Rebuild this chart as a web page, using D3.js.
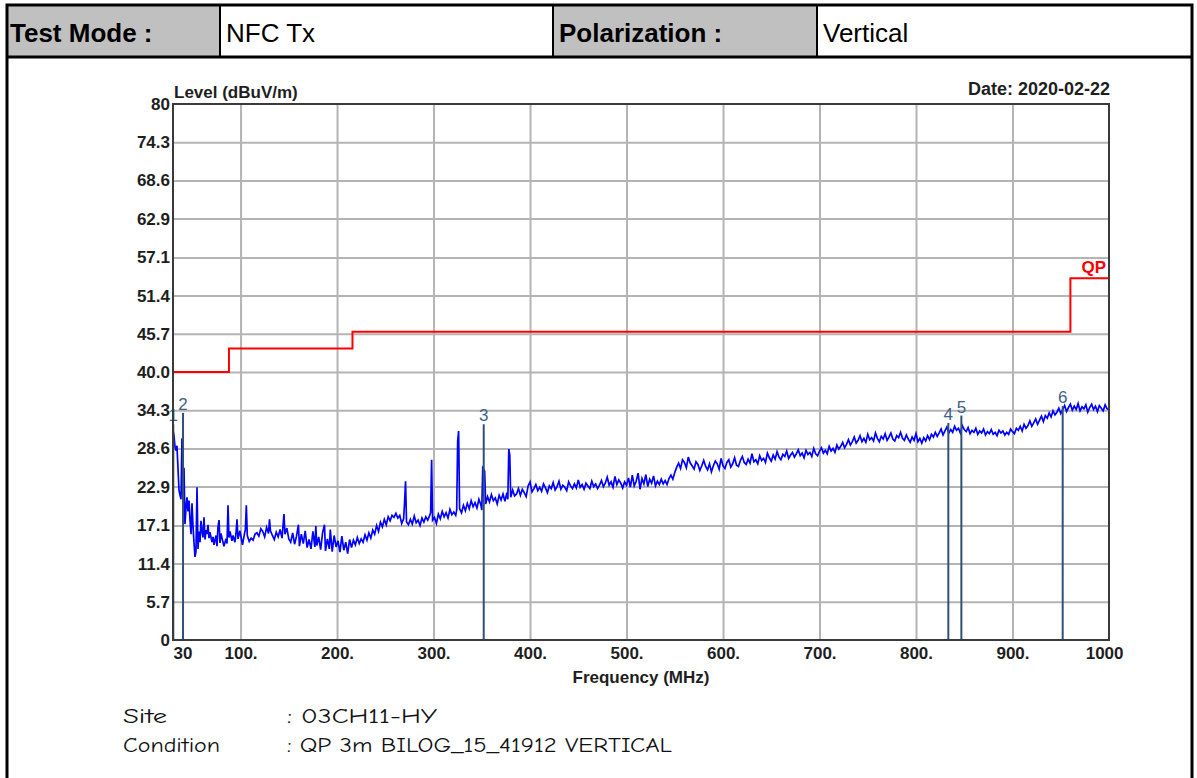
<!DOCTYPE html>
<html><head><meta charset="utf-8">
<script src="https://cdn.jsdelivr.net/npm/d3@7"></script>
<style>
html,body{margin:0;padding:0;background:#fff;}
svg{display:block;}
</style></head>
<body>
<svg id="c" width="1197" height="778"></svg>
<script>
// ---------- data ----------
const headerLabels = ["Test Mode :", "Polarization :"];
const headerValues = ["NFC Tx", "Vertical"];

const yTickValues = [0, 5.7, 11.4, 17.1, 22.9, 28.6, 34.3, 40.0, 45.7, 51.4, 57.1, 62.9, 68.6, 74.3, 80];
const yTickLabels = ["0", "5.7", "11.4", "17.1", "22.9", "28.6", "34.3", "40.0", "45.7", "51.4", "57.1", "62.9", "68.6", "74.3", "80"];
const xTickValues = [30, 100, 200, 300, 400, 500, 600, 700, 800, 900, 1000];
const xTickLabels = ["30", "100.", "200.", "300.", "400.", "500.", "600.", "700.", "800.", "900.", "1000"];

// QP limit (step after)
const limitFreq  = [30, 88, 216, 960, 1000];
const limitLevel = [40, 43.5, 46, 54, 54];

// markers
const markerNums  = ["1", "2", "3", "4", "5", "6"];
const markerFreq  = [30.3, 40.4, 352.0, 833.5, 847.0, 952.0];
const markerLevel = [32.2, 33.9, 32.2, 32.4, 33.5, 34.9];

// measured trace [MHz, dBuV/m]
const traceLow = [
[30.0,31.3],[31.0,30.5],[32.1,28.8],[33.1,28.3],[34.1,29.0],[35.2,25.5],[36.2,22.4],[37.3,21.6],[38.3,21.0],[39.3,30.1],
[40.4,20.5],[41.4,25.7],[42.4,17.3],[43.5,19.8],[44.5,21.3],[45.5,19.2],[46.6,20.8],[47.6,18.0],[48.7,15.8],[49.7,20.4],
[50.7,17.0],[51.8,14.5],[52.8,12.4],[53.8,13.2],[54.9,22.8],[55.9,13.6],[56.9,16.2],[58.0,14.6],[59.0,17.8],[60.0,16.3],
[61.1,15.3],[62.1,18.3],[63.2,15.0],[64.2,16.4],[65.2,15.8],[66.3,17.2],[67.3,15.2],[68.3,16.1],[70.4,14.6],[71.5,15.4],
[72.5,14.2],[74.6,15.6],[75.6,14.0],[76.6,16.8],[77.7,17.9],[78.7,14.5],[79.7,15.9],[80.8,15.2],[82.8,14.0],[84.9,15.1],
[86.0,14.4],[87.0,20.1],[88.0,15.3],[89.1,16.2],[91.1,14.8],[92.2,15.6],[94.2,14.6],[95.3,15.9],[96.3,18.0],[97.4,15.1],
[99.4,16.3]
];
const traceMid = [
[101,15.0],[102,14.2],[104,15.8],[105,16.5],[106,20.1],[107,15.6],[109,14.7],[111,15.2],[113,14.9],[115,15.8],
[117,16.0],[119,15.5],[121,16.6],[123,16.2],[125,15.4],[127,16.8],[129,15.9],[130,18.0],[131,16.3],[133,15.6],
[135,15.0],[137,16.1],[139,15.4],[141,16.5],[143,15.2],[145,18.8],[146,15.8],[148,16.7],[150,15.1],[152,14.6],
[154,16.0],[156,14.3],[158,15.5],[160,17.2],[161,14.0],[163,15.8],[165,14.4],[167,16.3],[169,13.8],[171,15.0],
[173,13.6],[175,16.2],[177,13.9],[178,17.0],[179,14.1],[181,15.4],[183,13.5],[185,16.0],[187,17.2],[188,13.3],
[190,15.1],[192,13.6],[193,16.5],[195,13.2],[197,15.6],[199,13.9],[201,14.8],[203,13.1],[205,15.5],[207,13.4],
[209,14.6],[211,12.9],[213,15.0],[215,13.8],[217,14.9],[219,14.2],[221,15.3],[223,14.4],[225,15.1],[227,14.6],
[229,15.7],[231,14.9],[233,16.0],[235,15.2],[237,16.4],[239,15.8],[241,17.1],[243,16.2],[245,17.6],[247,16.9],
[249,18.0],[251,17.2],[253,18.4],[255,17.8],[257,18.6],[259,18.3],[261,18.9],[263,18.2],[265,18.6],[267,17.4],
[269,18.1],[270,20.6],[271,23.7],[272,17.6],[274,17.2],[276,18.0],[278,17.3],[280,18.5],[282,17.5],[284,17.9],
[286,17.1],[288,18.2],[290,17.6],[292,18.4],[294,17.9],[296,18.6],[297,19.0],[298,26.9],[299,17.9],[301,18.3],
[303,17.4],[305,18.8],[307,18.1],[309,19.2],[311,18.4],[313,19.0],[315,18.2],[317,19.5],[319,18.7],[321,19.1],
[323,18.6],[324,19.4],[325,29.7],[326,31.2],[327,19.6],[329,19.0],[331,20.1],[333,19.3],[335,20.4],[337,19.6],
[339,20.8],[341,19.9],[343,20.5],[345,19.7],[347,21.0],[349,20.2],[350,19.4],[351,25.7],[352,25.5],[353,25.2],
[354,20.3],[356,21.4],[358,20.6],[360,21.7],[362,20.8],[364,21.2],[366,20.3],[368,21.6],[370,20.9],[372,21.8],
[374,20.7],[376,22.0],[377,21.0],[378,28.5],[379,27.6],[380,21.3],[382,22.4],[384,21.5],[386,21.8],[388,22.6],
[390,21.6],[392,22.5],[394,22.0],[396,21.4],[398,23.0],[400,23.6],[402,22.1],[404,22.6],[406,23.2],[408,22.3],
[410,22.8],[412,22.2],[414,23.3],[416,22.7],[418,22.0],[420,23.0],[422,22.6],[424,23.5],[426,22.4],[428,22.9],
[430,23.7],[432,22.5],[434,23.1],[436,22.8],[438,22.3],[440,23.6],[442,23.0],[444,22.6],[446,23.3],[448,22.7],
[450,23.9],[452,22.8],[454,23.2],[456,22.5],[458,23.4],[460,23.0],[462,22.6],[464,23.7],[466,22.9],[468,23.3],
[470,22.6],[472,23.1],[474,23.8],[476,22.9],[478,23.4],[480,24.3],[482,23.1],[484,23.6],[486,22.8],[488,24.4],
[490,23.2],[492,23.9],[494,23.4],[496,22.7],[498,23.6],[500,23.1],[502,24.2],[504,22.8],[506,24.6],[508,23.0],
[510,23.7],[512,24.9],[514,22.5],[516,24.1],[518,23.3],[520,24.7],[522,22.9],[524,24.0],[526,23.4],[528,24.5],
[530,23.0],[532,23.7],[534,23.2],[536,24.0],[538,23.3],[540,23.8],[542,23.2],[544,24.1],[546,24.6],[548,24.0]
];
const traceHigh = [
[550,25.0],[552,25.8],[554,26.4],[556,25.6],[558,26.9],[560,26.5],[562,25.7],[564,27.3],[566,26.4],[568,26.0],
[570,25.5],[572,26.6],[574,26.2],[576,25.3],[578,26.0],[580,26.8],[582,25.9],[584,25.4],[586,26.3],[588,25.1],
[590,26.0],[592,26.7],[594,26.3],[596,25.5],[598,27.1],[600,26.0],[602,25.6],[604,26.5],[606,26.9],[608,25.8],
[610,26.3],[612,27.2],[614,26.1],[616,25.9],[618,26.8],[620,27.4],[622,26.5],[624,26.2],[626,27.0],[628,26.4],
[630,27.8],[632,26.6],[634,26.9],[636,26.3],[638,27.5],[640,26.8],[642,27.1],[644,26.5],[646,27.9],[648,27.2],
[650,26.7],[652,27.6],[654,27.0],[656,28.1],[658,27.3],[660,26.9],[662,27.7],[664,27.4],[666,28.2],[668,27.1],
[670,27.6],[672,28.0],[674,27.3],[676,27.8],[678,28.4],[680,27.5],[682,27.9],[684,27.2],[686,28.3],[688,27.7],
[690,28.0],[692,27.4],[694,28.6],[696,27.8],[698,27.5],[700,28.2],[702,28.7],[704,27.9],[706,28.3],[708,27.8],
[710,28.9],[712,28.2],[714,28.6],[716,28.0],[718,29.1],[720,28.5],[722,28.9],[724,29.5],[726,28.7],[728,29.2],
[730,29.9],[732,29.1],[734,29.6],[736,30.3],[738,29.4],[740,29.8],[742,30.5],[744,29.6],[746,30.1],[748,29.5],
[750,30.7],[752,29.9],[754,30.2],[756,29.7],[758,30.9],[760,30.1],[762,29.6],[764,30.4],[766,30.0],[768,30.8],
[770,29.8],[772,30.3],[774,30.9],[776,30.0],[778,29.7],[780,30.5],[782,30.2],[784,31.0],[786,30.1],[788,29.8],
[790,30.6],[792,30.0],[794,29.5],[796,30.3],[798,29.8],[800,30.8],[802,29.6],[804,30.1],[806,29.4],[808,30.2],
[810,29.7],[812,30.5],[814,29.9],[816,30.7],[818,30.3],[820,31.0],[822,30.4],[824,30.9],[826,31.5],[828,30.6],
[830,31.2],[832,31.8],[834,30.9],[836,31.4],[838,31.0],[840,31.9],[842,31.3],[844,31.6],[846,30.9],[848,32.0],
[850,31.4],[852,31.1],[854,31.7],[856,30.8],[858,31.3],[860,31.0],[862,31.6],[864,30.7],[866,31.2],[868,30.9],
[870,31.5],[872,30.6],[874,31.1],[876,30.8],[878,31.4],[880,30.7],[882,31.0],[884,30.5],[886,31.3],[888,30.9],
[890,31.2],[892,30.6],[894,31.0],[896,30.7],[898,31.5],[900,31.1],[902,30.8],[904,31.6],[906,31.3],[908,31.9],
[910,31.2],[912,32.2],[914,31.6],[916,32.0],[918,32.7],[920,31.9],[922,32.4],[924,33.0],[926,32.2],[928,32.8],
[930,33.4],[932,32.6],[934,33.5],[936,33.1],[938,33.9],[940,33.3],[942,34.2],[944,33.6],[946,34.0],[948,34.6],
[950,33.8],[952,34.4],[954,35.0],[956,34.1],[958,34.7],[960,35.2],[962,34.3],[964,34.9],[966,34.4],[968,35.3],
[970,34.2],[972,34.8],[974,34.5],[976,35.1],[978,34.0],[980,34.7],[982,35.2],[984,34.4],[986,34.9],[988,34.1],
[990,35.0],[992,34.6],[994,34.2],[996,35.1],[998,34.5],[1000,34.4]
];

const footerKeys = ["Site", "Condition"];
const footerVals = [": 03CH11-HY", ": QP 3m BILOG_15_41912 VERTICAL"];

// ---------- drawing ----------
const svg = d3.select("#c");
const F = "'Liberation Sans', Arial, sans-serif";

// header table
const colX = [7, 220, 553, 817, 1192];
const rowTop = 5, rowBot = 57;
const cells = [
  {x0: colX[0], x1: colX[1], fill: "#c0c0c0", text: headerLabels[0], bold: true, pad: 3},
  {x0: colX[1], x1: colX[2], fill: "#ffffff", text: headerValues[0], bold: false, pad: 6},
  {x0: colX[2], x1: colX[3], fill: "#c0c0c0", text: headerLabels[1], bold: true, pad: 6},
  {x0: colX[3], x1: colX[4], fill: "#ffffff", text: headerValues[1], bold: false, pad: 6}
];
svg.selectAll("rect.cell").data(cells).join("rect")
  .attr("x", d => d.x0).attr("y", rowTop).attr("width", d => d.x1 - d.x0).attr("height", rowBot - rowTop)
  .attr("fill", d => d.fill).attr("stroke", "#000").attr("stroke-width", 2);
svg.selectAll("text.cell").data(cells).join("text")
  .attr("x", d => d.x0 + d.pad).attr("y", 42)
  .attr("font-family", F).attr("font-size", 26).attr("font-weight", d => d.bold ? "bold" : "normal")
  .attr("fill", "#000").text(d => d.text);
// outer frame
svg.append("path").attr("d", `M${colX[0]},778 V${rowTop} H${colX[4]} V778`)
  .attr("fill", "none").attr("stroke", "#000").attr("stroke-width", 3);
svg.append("line").attr("x1", colX[0]).attr("x2", colX[4]).attr("y1", rowBot).attr("y2", rowBot)
  .attr("stroke", "#000").attr("stroke-width", 3);

// plot
const L = 173, R = 1109, T = 104, B = 640;
const x = d3.scaleLinear().domain([30, 1000]).range([L, R]);
const y = d3.scaleLinear().domain([0, 80]).range([B, T]);

// grid
const gx = svg.append("g").attr("transform", `translate(0,${B})`)
  .call(d3.axisBottom(x).tickValues(xTickValues.slice(1, -1)).tickSize(-(B - T)).tickFormat(""));
const gy = svg.append("g").attr("transform", `translate(${L},0)`)
  .call(d3.axisLeft(y).tickValues(yTickValues.slice(1, -1)).tickSize(-(R - L)).tickFormat(""));
[gx, gy].forEach(g => {
  g.select(".domain").remove();
  g.selectAll(".tick line").attr("stroke", "#b4b4b4").attr("stroke-width", 2);
});

// limit line
const limitPts = limitFreq.map((f, i) => [f, limitLevel[i]]);
svg.append("path").datum(limitPts)
  .attr("d", d3.line().x(d => x(d[0])).y(d => y(d[1])).curve(d3.curveStepAfter))
  .attr("fill", "none").attr("stroke", "#ff0000").attr("stroke-width", 2);
svg.append("text").attr("x", R - 3).attr("y", 273).attr("text-anchor", "end")
  .attr("font-family", F).attr("font-size", 17).attr("font-weight", "bold").attr("fill", "#ff0000").text("QP");

// trace
svg.append("clipPath").attr("id", "clip").append("rect")
  .attr("x", L).attr("y", T).attr("width", R - L).attr("height", B - T);
const trace = traceLow.concat(traceMid, traceHigh);
svg.append("path").datum(trace).attr("clip-path", "url(#clip)")
  .attr("d", d3.line().x(d => x(d[0])).y(d => y(d[1])))
  .attr("fill", "none").attr("stroke", "#0000ff").attr("stroke-width", 1.7).attr("stroke-linejoin", "miter");

// markers
const markers = markerNums.map((n, i) => ({n, f: markerFreq[i], v: markerLevel[i]}));
svg.selectAll("line.mk").data(markers).join("line")
  .attr("x1", d => x(d.f)).attr("x2", d => x(d.f)).attr("y1", B).attr("y2", d => y(d.v))
  .attr("stroke", "#2e5176").attr("stroke-width", 2);
svg.selectAll("text.mk").data(markers).join("text")
  .attr("x", d => x(d.f)).attr("y", d => y(d.v) - 3).attr("text-anchor", "middle")
  .attr("font-family", F).attr("font-size", 17).attr("fill", "#3d6189").text(d => d.n);

// plot border
svg.append("rect").attr("x", L).attr("y", T).attr("width", R - L).attr("height", B - T)
  .attr("fill", "none").attr("stroke", "#3a3a3a").attr("stroke-width", 2);

// axis labels
const ay = svg.append("g").attr("transform", `translate(${L},0)`)
  .call(d3.axisLeft(y).tickValues(yTickValues).tickSize(0).tickPadding(3)
    .tickFormat((d, i) => yTickLabels[i]));
const ax = svg.append("g").attr("transform", `translate(0,${B})`)
  .call(d3.axisBottom(x).tickValues(xTickValues).tickSize(0).tickPadding(7)
    .tickFormat((d, i) => xTickLabels[i]));
[ax, ay].forEach(g => {
  g.select(".domain").remove();
  g.selectAll("text").attr("font-family", F).attr("font-size", 17).attr("font-weight", "bold").attr("fill", "#1e1e1e");
});
ax.selectAll(".tick text").attr("text-anchor", (d, i) => i === 0 ? "start" : (i === xTickValues.length - 1 ? "end" : "middle"))
  .attr("dx", (d, i) => i === 0 ? 0 : (i === xTickValues.length - 1 ? 14 : 0));

svg.append("text").attr("x", L + 1).attr("y", 98)
  .attr("font-family", F).attr("font-size", 17).attr("font-weight", "bold").attr("fill", "#1e1e1e").text("Level (dBuV/m)");
svg.append("text").attr("x", R + 1).attr("y", 95).attr("text-anchor", "end")
  .attr("font-family", F).attr("font-size", 18).attr("font-weight", "bold").attr("fill", "#1e1e1e").text("Date: 2020-02-22");
svg.append("text").attr("x", (L + R) / 2).attr("y", 683).attr("text-anchor", "middle")
  .attr("font-family", F).attr("font-size", 17).attr("font-weight", "bold").attr("fill", "#1e1e1e").text("Frequency (MHz)");

// footer
const FF = "'Comic Sans MS', 'Comic Neue', 'DejaVu Sans', sans-serif";
const footY = [723, 752];
const keyW = [44, 97];
const valW = [150, 385];
footerKeys.forEach((k, i) => {
  svg.append("text").attr("x", 123).attr("y", footY[i]).attr("font-family", FF).attr("font-size", 20)
    .attr("textLength", keyW[i]).attr("lengthAdjust", "spacingAndGlyphs")
    .attr("fill", "#111").text(k);
  svg.append("text").attr("x", 287).attr("y", footY[i]).attr("font-family", FF).attr("font-size", 20)
    .attr("textLength", valW[i]).attr("lengthAdjust", "spacingAndGlyphs")
    .attr("fill", "#111").text(footerVals[i]);
});
</script>
</body></html>
